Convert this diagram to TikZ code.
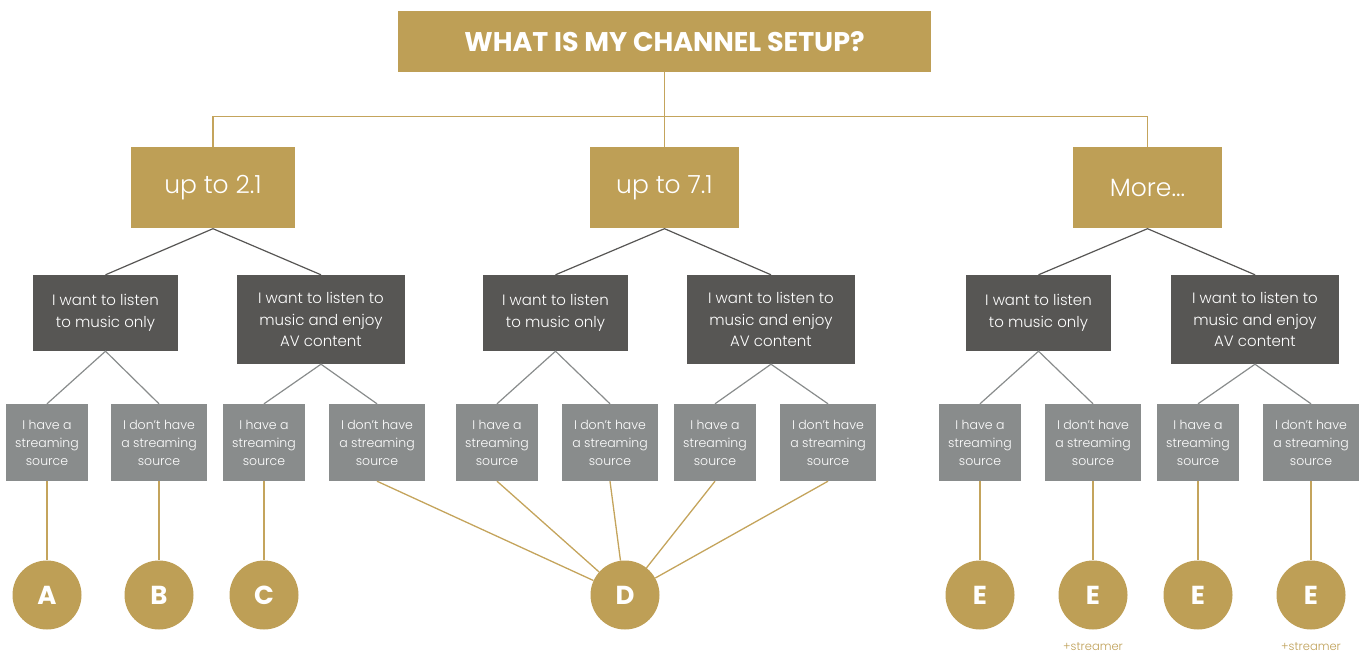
\documentclass[tikz,border=0pt]{standalone}
\usepackage{fontspec}
\setmainfont{Poppins}[UprightFont=* Light, BoldFont=* Bold]
\definecolor{gold}{HTML}{BE9F56}
\definecolor{goldline}{HTML}{C4A45C}
\definecolor{darkbox}{HTML}{575654}
\definecolor{greybox}{HTML}{898C8C}
\tikzset{
  titlebox/.style={fill=gold,text=white,inner sep=0pt,minimum width=533pt,minimum height=61pt,font=\fontsize{27}{30}\bfseries\selectfont},
  setupbox/.style={fill=gold,text=white,inner sep=0pt,minimum height=81pt,font=\fontsize{25}{28}\selectfont},
  wantbox/.style={fill=darkbox,text=white,inner sep=0pt,align=center,font=\fontsize{15}{21.5}\selectfont},
  srcbox/.style={fill=greybox,text=white,inner sep=0pt,align=center,minimum height=77pt,font=\fontsize{12.5}{18}\selectfont},
  answer/.style={circle,fill=gold,text=white,inner sep=0pt,minimum size=69pt,font=\fontsize{26}{30}\bfseries\selectfont},
  goldwire/.style={draw=goldline,line width=1.3pt},
  darkwire/.style={draw=darkbox,line width=1.2pt},
  greywire/.style={draw=greybox,line width=1.2pt}
}
\begin{document}
\begin{tikzpicture}[x=1pt,y=-1pt]
    \useasboundingbox (0,0) rectangle (1365,655);
    %% Question
    \node[titlebox] (title) at (664.5,41.5) {WHAT IS MY CHANNEL SETUP?};
    \coordinate (bus) at (664.5,116.5);
    %% Channel setups
    \node[setupbox,minimum width=164pt] (up21) at (213,188) {up to 2.1};
    \node[setupbox,minimum width=149pt] (up71) at (664.5,188) {up to 7.1};
    \node[setupbox,minimum width=149pt] (more) at (1147.5,188) {More...};
    \draw[goldwire] (title.south) -- (bus);
    \draw[goldwire] (up21.north) |- (bus) -| (more.north);
    \draw[goldwire] (bus) -- (up71.north);
    %% What I want
    \node[wantbox,minimum width=145pt,minimum height=76pt] (musicA) at (105.5,313) {I want to listen\\to music only};
    \node[wantbox,minimum width=168pt,minimum height=89pt] (avA) at (321,319.5) {I want to listen to\\music and enjoy\\AV content};
    \node[wantbox,minimum width=145pt,minimum height=76pt] (musicB) at (555.5,313) {I want to listen\\to music only};
    \node[wantbox,minimum width=168pt,minimum height=89pt] (avB) at (771,319.5) {I want to listen to\\music and enjoy\\AV content};
    \node[wantbox,minimum width=145pt,minimum height=76pt] (musicC) at (1038.5,313) {I want to listen\\to music only};
    \node[wantbox,minimum width=168pt,minimum height=89pt] (avC) at (1255,319.5) {I want to listen to\\music and enjoy\\AV content};
    \draw[darkwire] (musicA.north) -- (up21.south) -- (avA.north);
    \draw[darkwire] (musicB.north) -- (up71.south) -- (avB.north);
    \draw[darkwire] (musicC.north) -- (more.south) -- (avC.north);
    %% Streaming sources
    \node[srcbox,minimum width=82pt] (src1) at (47,442.5) {I have a\\streaming\\source};
    \node[srcbox,minimum width=96pt] (src2) at (159,442.5) {I don't have\\a streaming\\source};
    \node[srcbox,minimum width=82pt] (src3) at (264,442.5) {I have a\\streaming\\source};
    \node[srcbox,minimum width=96pt] (src4) at (377,442.5) {I don't have\\a streaming\\source};
    \node[srcbox,minimum width=82pt] (src5) at (497,442.5) {I have a\\streaming\\source};
    \node[srcbox,minimum width=96pt] (src6) at (610,442.5) {I don't have\\a streaming\\source};
    \node[srcbox,minimum width=82pt] (src7) at (715,442.5) {I have a\\streaming\\source};
    \node[srcbox,minimum width=96pt] (src8) at (828,442.5) {I don't have\\a streaming\\source};
    \node[srcbox,minimum width=82pt] (src9) at (980,442.5) {I have a\\streaming\\source};
    \node[srcbox,minimum width=96pt] (src10) at (1093,442.5) {I don't have\\a streaming\\source};
    \node[srcbox,minimum width=82pt] (src11) at (1198,442.5) {I have a\\streaming\\source};
    \node[srcbox,minimum width=96pt] (src12) at (1311,442.5) {I don't have\\a streaming\\source};
    \draw[greywire] (src1.north) -- (musicA.south) -- (src2.north);
    \draw[greywire] (src3.north) -- (avA.south) -- (src4.north);
    \draw[greywire] (src5.north) -- (musicB.south) -- (src6.north);
    \draw[greywire] (src7.north) -- (avB.south) -- (src8.north);
    \draw[greywire] (src9.north) -- (musicC.south) -- (src10.north);
    \draw[greywire] (src11.north) -- (avC.south) -- (src12.north);
    %% Answers
    \node[answer] (ansA) at (47,595) {A};
    \node[answer] (ansB) at (159,595) {B};
    \node[answer] (ansC) at (264,595) {C};
    \node[answer] (ansD) at (625,595) {D};
    \node[answer] (ansE1) at (980,595) {E};
    \node[answer] (ansE2) at (1093,595) {E};
    \node[answer] (ansE3) at (1198,595) {E};
    \node[answer] (ansE4) at (1311,595) {E};
    \node[text=gold,font=\fontsize{11.5}{14}\selectfont] (plusE2) at (1093,647) {+streamer};
    \node[text=gold,font=\fontsize{11.5}{14}\selectfont] (plusE4) at (1311,647) {+streamer};
    \draw[goldwire] (src1.south) -- (ansA);
    \draw[goldwire] (src2.south) -- (ansB);
    \draw[goldwire] (src3.south) -- (ansC);
    \foreach \s in {src4,src5,src6,src7,src8}
        \draw[goldwire] (\s.south) -- (ansD);
    \draw[goldwire] (src9.south) -- (ansE1);
    \draw[goldwire] (src10.south) -- (ansE2);
    \draw[goldwire] (src11.south) -- (ansE3);
    \draw[goldwire] (src12.south) -- (ansE4);
\end{tikzpicture}
\end{document}
